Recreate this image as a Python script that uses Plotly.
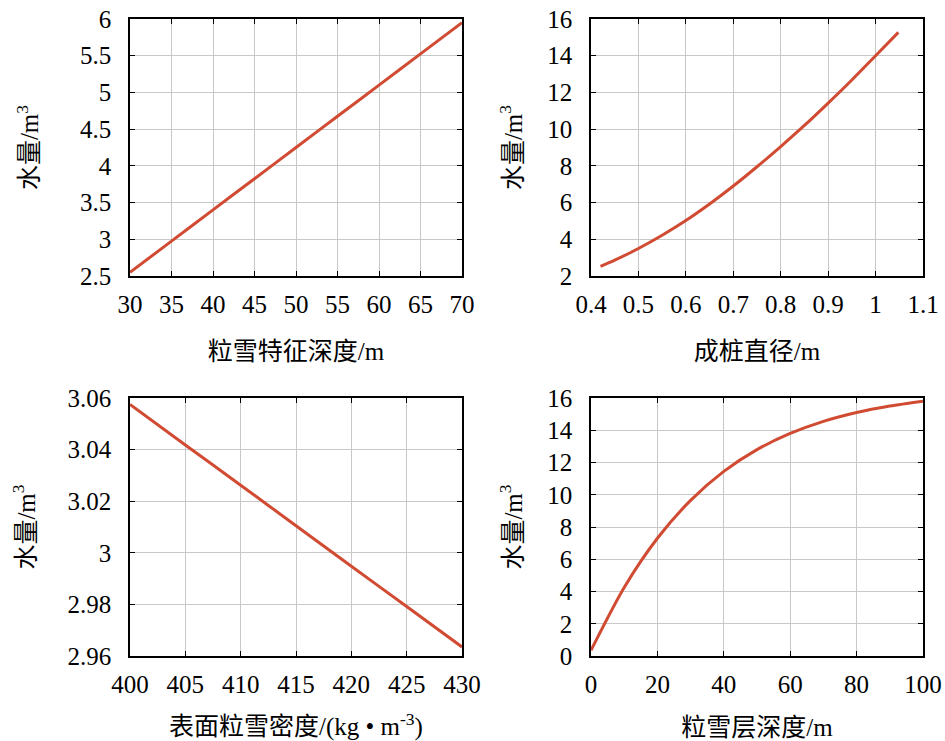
import plotly.graph_objects as go
from plotly.subplots import make_subplots

# Données
depth_feat = [30, 35, 40, 45, 50, 55, 60, 65, 70]
water_feat = [2.55, 2.975, 3.40, 3.825, 4.25, 4.675, 5.10, 5.525, 5.95]

pile_diam = [0.42, 0.45, 0.50, 0.55, 0.60, 0.65, 0.70, 0.75, 0.80, 0.85, 0.90, 0.95, 1.00, 1.048]
water_diam = [2.52, 2.86, 3.5, 4.22, 5.02, 5.92, 6.9, 7.95, 9.05, 10.2, 11.42, 12.68, 14.0, 15.27]

density = [400, 405, 410, 415, 420, 425, 430]
water_dens = [3.0575, 3.0418, 3.0262, 3.0105, 2.9948, 2.9792, 2.9635]

layer_depth = [0, 10, 20, 30, 40, 50, 60, 70, 80, 90, 100]
water_layer = [0.35, 4.25, 7.3, 9.65, 11.45, 12.8, 13.8, 14.55, 15.1, 15.5, 15.8]

x_titles = ["粒雪特征深度/m", "成桩直径/m", "表面粒雪密度/(kg • m<sup>-3</sup>)", "粒雪层深度/m"]
y_title = "水量/m<sup>3</sup>"

W, H = 945, 741

fig = make_subplots(rows=2, cols=2)

series = [(depth_feat, water_feat), (pile_diam, water_diam), (density, water_dens), (layer_depth, water_layer)]
for i, (x, y) in enumerate(series):
    fig.add_trace(
        go.Scatter(x=x, y=y, mode="lines", line=dict(color="#D14B33", width=3, shape="spline", smoothing=0.8),
                   showlegend=False),
        row=i // 2 + 1, col=i % 2 + 1,
    )

# Domaines des sous-graphiques (en pixels)
xdom = [[130 / W, 462 / W], [591 / W, 923 / W]]
ydom = [[1 - 276 / H, 1 - 19 / H], [1 - 656 / H, 1 - 398 / H]]

x_ranges = [[30, 70], [0.4, 1.1], [400, 430], [0, 100]]
x_dticks = [5, 0.1, 5, 20]
y_ranges = [[2.5, 6], [2, 16], [2.96, 3.06], [0, 16]]
y_dticks = [0.5, 2, 0.02, 2]
y_standoffs = [34, 18, 25, 18]

axis_style = dict(
    showline=True, linecolor="black", linewidth=1.5, mirror="ticks",
    ticks="inside", ticklen=5, tickcolor="black",
    showgrid=True, gridcolor="#c8c8c8", gridwidth=1.2,
    zeroline=False, automargin=False, ticklabeloverflow="allow",
    tickfont=dict(family="Liberation Serif, Noto Sans CJK SC, serif", size=25),
)

for i in range(4):
    r, c = i // 2 + 1, i % 2 + 1
    fig.update_xaxes(
        range=x_ranges[i], dtick=x_dticks[i], domain=xdom[c - 1],
        title=dict(text=x_titles[i], standoff=26, font=dict(size=25)),
        ticklabelstandoff=5, **axis_style, row=r, col=c,
    )
    fig.update_yaxes(
        range=y_ranges[i], dtick=y_dticks[i], domain=ydom[r - 1],
        title=dict(text=y_title, standoff=y_standoffs[i], font=dict(size=25)),
        ticklabelstandoff=12, **axis_style, row=r, col=c,
    )

fig.update_layout(
    width=W, height=H,
    margin=dict(l=0, r=0, t=0, b=0),
    font=dict(family="Liberation Serif, Noto Sans CJK SC, serif", size=25, color="black"),
    plot_bgcolor="white", paper_bgcolor="white",
)

# Supprimer la marge par défaut de la page pour que la figure remplisse la fenêtre
fig.write_html("out.html", config={"displayModeBar": False},
               post_script="document.body.style.margin = '0';")
